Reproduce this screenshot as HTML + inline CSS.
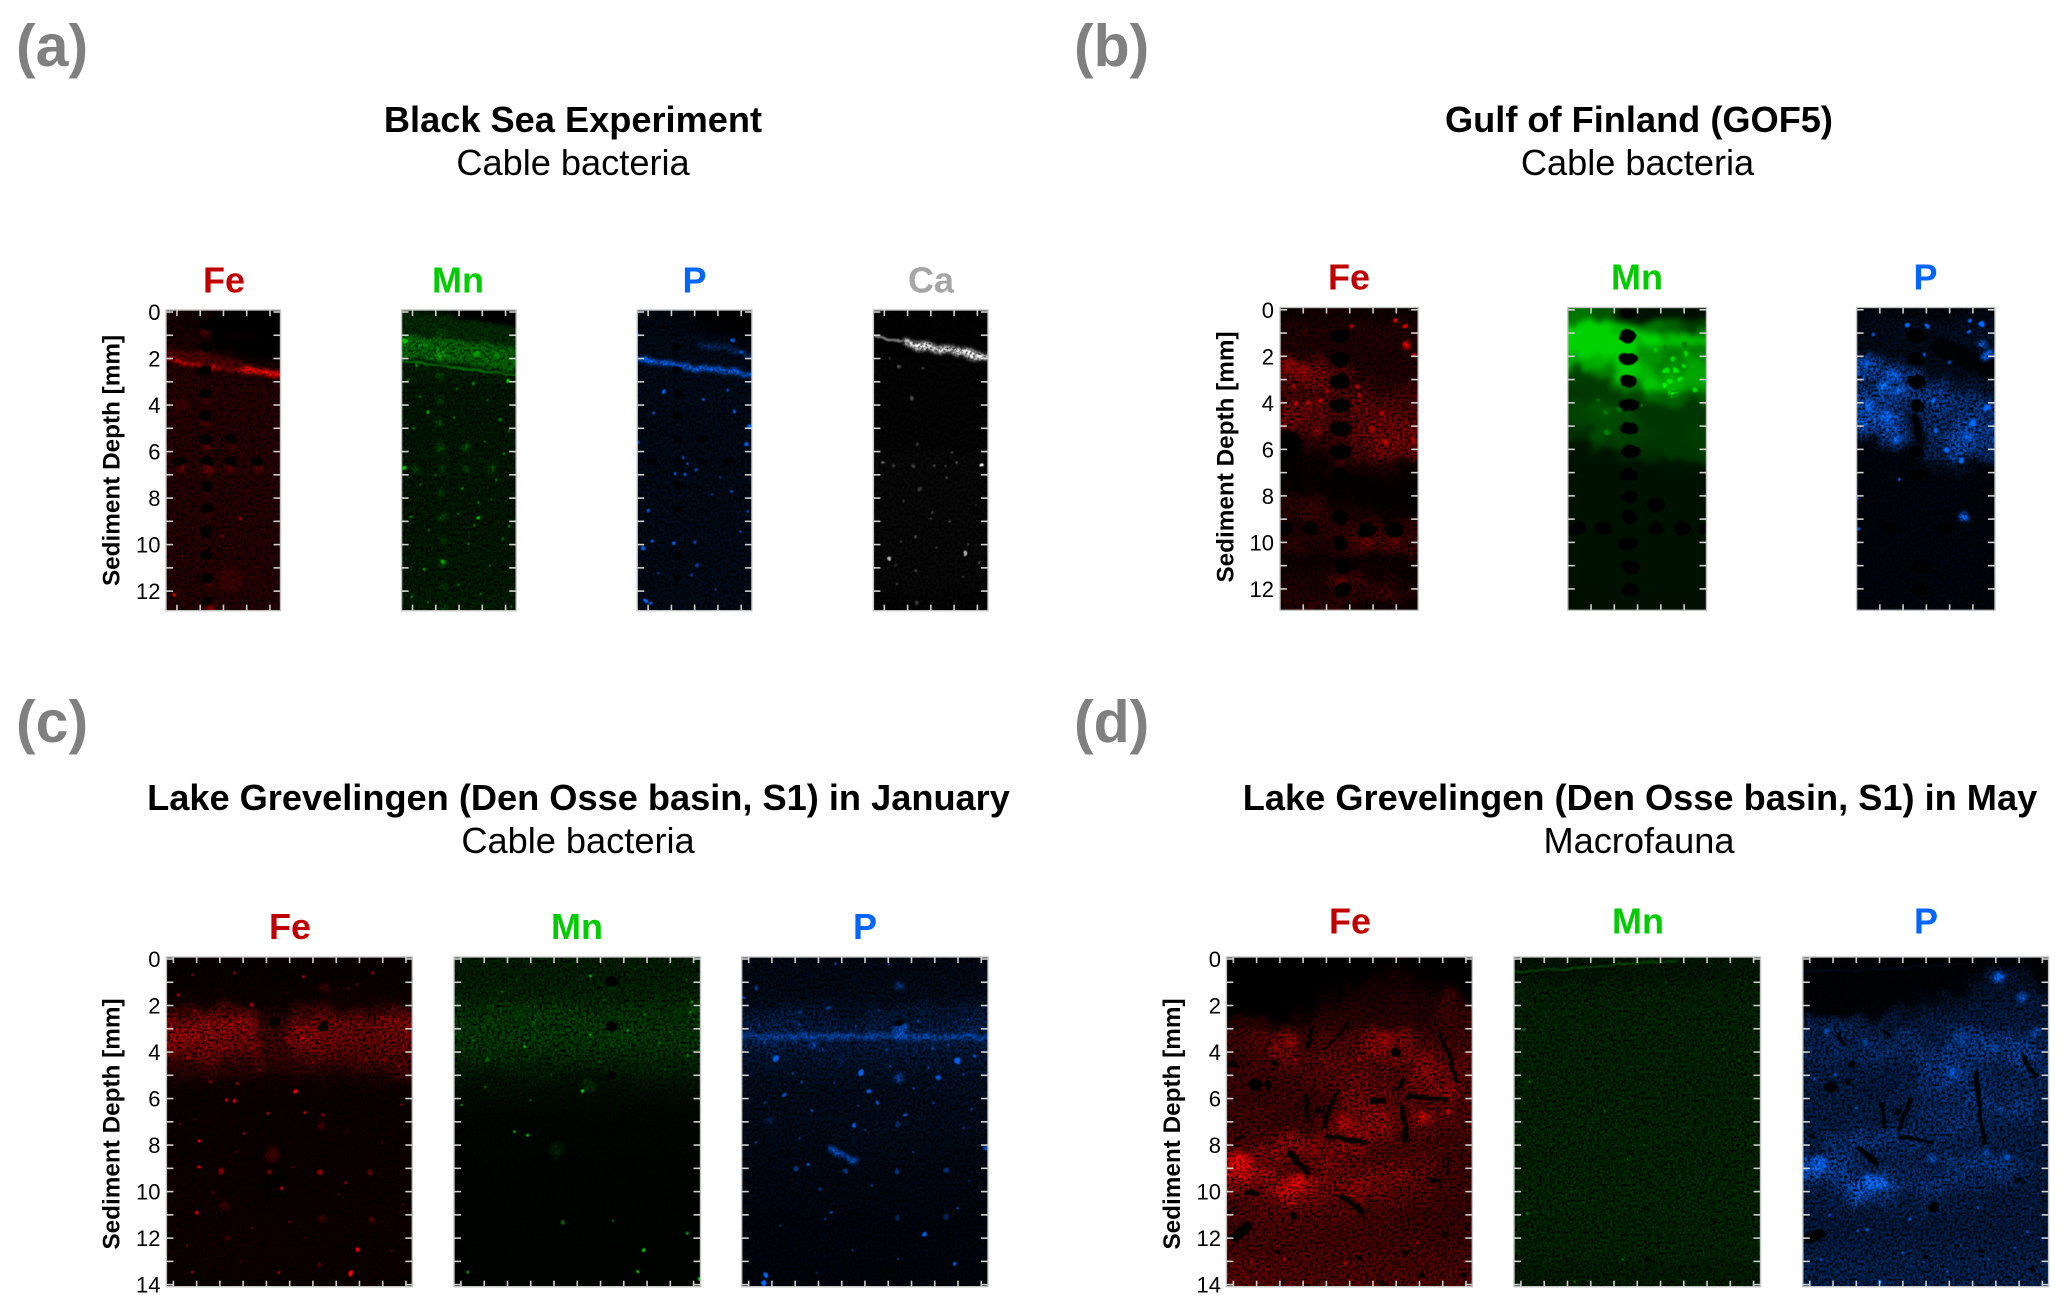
<!DOCTYPE html>
<html lang="en">
<head>
<meta charset="utf-8">
<title>Sediment element maps</title>
<style>
html,body{margin:0;padding:0;background:#fff;}
svg{display:block;font-family:"Liberation Sans",Arial,sans-serif;}
.panel-letter{font-size:59px;font-weight:700;fill:#808080;}
.title{font-size:36.2px;font-weight:700;fill:#000;text-anchor:middle;}
.subtitle{font-size:36.2px;fill:#000;text-anchor:middle;}
.element{font-size:36px;font-weight:700;text-anchor:middle;}
.tick-label{font-size:22px;fill:#000;text-anchor:end;}
.y-title{font-size:24.3px;font-weight:700;fill:#000;text-anchor:middle;}
</style>
</head>
<body>
<svg id="figure" xmlns="http://www.w3.org/2000/svg" width="2067" height="1316" viewBox="0 0 2067 1316">
<defs>
<filter id="grain" x="-5%" y="-5%" width="110%" height="110%" color-interpolation-filters="sRGB">
<feTurbulence type="fractalNoise" baseFrequency="0.06" numOctaves="3" seed="11" result="warp"/>
<feDisplacementMap in="SourceGraphic" in2="warp" scale="22" xChannelSelector="R" yChannelSelector="G" result="moved"/>
<feGaussianBlur in="moved" stdDeviation="3" result="b"/>
<feTurbulence type="fractalNoise" baseFrequency="0.38" numOctaves="2" seed="4" result="n"/>
<feColorMatrix in="n" type="matrix" values="2.4 0 0 0 -0.58 2.4 0 0 0 -0.58 2.4 0 0 0 -0.58 0 0 0 0 1" result="g"/>
<feComposite in="b" in2="g" operator="arithmetic" k1="1.12" k2="0" k3="0" k4="0"/>
</filter>
<filter id="smooth" x="-5%" y="-5%" width="110%" height="110%" color-interpolation-filters="sRGB">
<feTurbulence type="fractalNoise" baseFrequency="0.06" numOctaves="3" seed="11" result="warp"/>
<feDisplacementMap in="SourceGraphic" in2="warp" scale="24" xChannelSelector="R" yChannelSelector="G" result="moved"/>
<feGaussianBlur in="moved" stdDeviation="3"/>
</filter>
<filter id="wide" x="-5%" y="-5%" width="110%" height="110%" color-interpolation-filters="sRGB">
<feTurbulence type="fractalNoise" baseFrequency="0.09" numOctaves="2" seed="7" result="warp"/>
<feDisplacementMap in="SourceGraphic" in2="warp" scale="8" xChannelSelector="R" yChannelSelector="G" result="moved"/>
<feGaussianBlur in="moved" stdDeviation="1.8" result="b"/>
<feTurbulence type="fractalNoise" baseFrequency="0.38" numOctaves="2" seed="9" result="n"/>
<feColorMatrix in="n" type="matrix" values="1.8 0 0 0 -0.15 1.8 0 0 0 -0.15 1.8 0 0 0 -0.15 0 0 0 0 1" result="g"/>
<feComposite in="b" in2="g" operator="arithmetic" k1="1.15" k2="0" k3="0" k4="0"/>
</filter>
<filter id="soft" x="-5%" y="-5%" width="110%" height="110%" color-interpolation-filters="sRGB">
<feTurbulence type="fractalNoise" baseFrequency="0.09" numOctaves="2" seed="7" result="warp"/>
<feDisplacementMap in="SourceGraphic" in2="warp" scale="5" xChannelSelector="R" yChannelSelector="G" result="moved"/>
<feGaussianBlur in="moved" stdDeviation="0.5"/>
</filter>
</defs>

<text class="panel-letter" x="16" y="66">(a)</text>
<text class="panel-letter" x="1074" y="66">(b)</text>
<text class="panel-letter" x="16" y="742">(c)</text>
<text class="panel-letter" x="1074" y="742">(d)</text>

<text class="title" x="573" y="132">Black Sea Experiment</text>
<text class="subtitle" x="573" y="175">Cable bacteria</text>
<text class="title" x="1639" y="132">Gulf of Finland (GOF5)</text>
<text class="subtitle" x="1637.5" y="175">Cable bacteria</text>
<text class="title" x="578.5" y="810">Lake Grevelingen (Den Osse basin, S1) in January</text>
<text class="subtitle" x="578" y="853">Cable bacteria</text>
<text class="title" x="1640" y="810">Lake Grevelingen (Den Osse basin, S1) in May</text>
<text class="subtitle" x="1639" y="853">Macrofauna</text>

<text class="element" x="224" y="292.5" fill="#c00000">Fe</text>
<text class="element" x="458" y="292.5" fill="#00cc00">Mn</text>
<text class="element" x="694.5" y="292.5" fill="#0066ff">P</text>
<text class="element" x="931" y="292.5" fill="#a6a6a6">Ca</text>
<text class="element" x="1349" y="289.5" fill="#c00000">Fe</text>
<text class="element" x="1637" y="289.5" fill="#00cc00">Mn</text>
<text class="element" x="1925.5" y="289.5" fill="#0066ff">P</text>
<text class="element" x="290" y="939" fill="#c00000">Fe</text>
<text class="element" x="577" y="939" fill="#00cc00">Mn</text>
<text class="element" x="865" y="939" fill="#0066ff">P</text>
<text class="element" x="1350" y="933.7" fill="#c00000">Fe</text>
<text class="element" x="1638" y="933.7" fill="#00cc00">Mn</text>
<text class="element" x="1926" y="933.7" fill="#0066ff">P</text>

<text class="y-title" transform="translate(119.4,460.5) rotate(-90)">Sediment Depth [mm]</text>
<text class="y-title" transform="translate(1233.5,457) rotate(-90)">Sediment Depth [mm]</text>
<text class="y-title" transform="translate(119.4,1124) rotate(-90)">Sediment Depth [mm]</text>
<text class="y-title" transform="translate(1180,1124) rotate(-90)">Sediment Depth [mm]</text>
</svg>

<script>
// Axis ticks (mm)
const depthTicks13 = [0,1,2,3,4,5,6,7,8,9,10,11,12];
const depthTicks14 = [0,1,2,3,4,5,6,7,8,9,10,11,12,13,14];
const depthLabels13 = [0,2,4,6,8,10,12];
const depthLabels14 = [0,2,4,6,8,10,12,14];
const widthTicksNarrow = [0.47,1.47,2.47,3.47,4.47];
const widthTicksMedium = [1,2,3,4,5];
const widthTicksWide = [0.3,1.3,2.3,3.3,4.3,5.3,6.3,7.3,8.3,9.3,10.3];

// Channel peak colour per unit level (level 100 = full channel)
const channelFe = [2.55,0,0];
const channelMn = [0,2.1,0];
const channelP = [0,1.05,2.55];
const channelCa = [2.55,2.55,2.55];

// ---- Panel a: intensity cells (rows 1 mm deep, columns 1 mm wide)
const aFeCells = [[10,8,2,0,0],[14,12,9,4,1],[17,17,15,14,12],[17,17,17,17,17],[18,17,17,17,17],[17,17,17,17,17],[18,18,18,18,18],[17,17,17,17,17],[17,17,17,17,17],[17,17,17,17,17],[17,17,17,17,17],[16,16,18,18,17],[16,16,17,16,16]];
const aMnCells = [[12,10,6,1,0],[18,20,18,14,8],[16,16,16,16,18],[13,13,13,13,13],[13,13,13,13,13],[12,13,13,13,13],[13,14,14,14,13],[13,13,13,13,13],[13,13,13,13,13],[13,13,14,13,13],[14,14,14,14,13],[14,14,14,14,14],[15,15,15,15,15]];
const aPCells = [[8,8,6,3,1],[11,11,11,11,7],[11,11,11,11,11],[11,11,11,11,11],[10,10,10,10,10],[10,10,10,10,10],[10,10,10,10,10],[10,10,10,10,10],[10,10,10,10,10],[10,10,10,10,10],[10,10,10,10,10],[10,10,10,10,10],[10,10,10,10,10]];
const aCaCells = [[1],[1],[2],[2],[2],[2],[3],[3],[3],[3],[3],[3],[2]];
const aFeBands = [[0.35,0,2.0,0.55,4.95,0.85],[0.55,0,2.3,1.3,4.95,1.6],[0.26,120,0,1.98,1,2.15,2,2.33,3,2.43,4,2.57,4.95,2.68],[0.5,28,0,1.75,1.5,2,3,2.25]];
const aMnBands = [[0.55,0,2.6,0.0,4.95,0.4],[1.05,46,0,1.45,2,1.65,4.95,2.05],[0.9,20,0,0.4,2.5,0.75,4.95,1.05],[0.1,48,0,2.1,2.5,2.4,4.95,2.72]];
const aPBands = [[0.5,0,2.6,0.0,4.95,0.45],[0.22,100,0,1.98,1,2.15,2,2.35,3,2.45,4,2.55,4.95,2.68],[0.22,40,2.7,1.4,3.7,1.55,4.95,1.92]];
const aCaBands = [[0.12,45,0.1,1.05,1.2,1.25],[0.3,90,1.4,1.3,2.2,1.5,3,1.6,4,1.75,4.95,1.98]];
const aHoles = [[1.7,0.56,0.28,0.22],[1.7,1.49,0.28,0.22],[1.7,2.49,0.28,0.22],[1.7,3.5,0.28,0.22],[1.7,4.47,0.28,0.22],[1.7,5.47,0.28,0.22],[2.8,5.47,0.25,0.2],[0.62,6.43,0.25,0.2],[1.8,6.43,0.28,0.22],[2.8,6.43,0.28,0.22],[3.93,6.43,0.25,0.2],[1.75,7.48,0.25,0.22],[1.75,8.45,0.25,0.22],[1.75,9.45,0.25,0.22],[1.75,10.45,0.25,0.22],[1.75,11.44,0.25,0.22],[1.8,12.42,0.2,0.2]];
const aPHoles = [[1.7,1.49,0.22,0.18],[1.7,2.49,0.2,0.16],[1.7,3.5,0.2,0.16],[1.7,4.47,0.2,0.16],[1.7,5.47,0.2,0.16],[2.8,5.47,0.2,0.16],[0.62,6.43,0.2,0.16],[1.8,6.43,0.22,0.18],[2.8,6.43,0.2,0.16],[3.93,6.43,0.2,0.16],[1.75,7.48,0.18,0.16],[1.75,8.45,0.18,0.16],[1.75,10.45,0.18,0.16],[1.75,11.44,0.18,0.16]];
const aFeSpots = [[1.7,0.85,0.2,30],[1.7,1.8,0.2,32],[1.7,3.8,0.2,34],[1.7,4.78,0.2,32],[1.7,5.8,0.2,40],[2.8,5.8,0.2,30],[0.65,6.75,0.2,42],[1.8,6.78,0.22,42],[2.8,6.75,0.2,38],[3.95,6.75,0.2,38],[1.8,7.8,0.15,28],[1.85,8.8,0.15,28],[1.85,11.75,0.15,34],[1.85,12.75,0.2,50],[0.35,12.2,0.07,80],[3.15,8.85,0.08,60],[2.4,9.6,0.06,40],[2.75,11.5,0.6,22],[0.65,3.95,0.3,25]];
const aMnSpots = [[0.15,1.25,0.12,95],[1.1,4.25,0.07,85],[0.1,6.7,0.08,100],[3.3,8.85,0.08,100],[4.6,2.95,0.08,100],[1.8,10.75,0.08,85],[0.95,11.1,0.06,80],[0.45,12.25,0.06,80],[4.7,12.65,0.05,90],[3.3,8.2,0.05,80],[3.1,9.15,0.05,75],[3.1,3.05,0.06,70],[0.8,3.65,0.06,60],[4.2,4.65,0.05,65],[0.65,2.3,0.06,80],[4.6,9.2,0.05,75],[1.45,7,0.05,65],[3.9,8.1,0.05,65],[2.4,8.7,0.05,60],[4.35,9.75,0.05,60],[1.7,1.8,0.22,72],[3.2,1.8,0.13,75],[0.9,1.35,0.2,60],[4.1,1.9,0.13,62],[1.65,0.9,0.2,32],[1.65,2.8,0.17,30],[1.65,3.8,0.17,32],[1.65,4.8,0.17,34],[1.65,5.8,0.17,36],[2.8,5.8,0.17,38],[0.6,6.75,0.17,36],[1.75,6.78,0.17,38],[2.8,6.78,0.17,38],[3.9,6.75,0.17,36],[1.75,7.8,0.16,32],[1.75,8.8,0.16,34],[1.8,9.8,0.15,28],[1.8,10.8,0.17,40],[1.8,11.8,0.17,32],[1.8,12.75,0.17,30],[0.5,5,0.05,75],[2.3,4.5,0.05,70],[3.6,5.6,0.05,70],[4.4,6.1,0.05,70],[0.8,7.4,0.05,70],[2.6,7.6,0.05,70],[4.1,7.2,0.05,70],[0.4,8.8,0.05,75],[1.2,9.4,0.05,70],[2.9,10,0.05,70],[3.8,10.9,0.05,70],[2.4,11.7,0.05,70],[3.4,12.1,0.05,70],[1.1,12.5,0.05,70],[0.3,2.9,0.05,65],[2.4,3.3,0.05,65],[3.7,3.8,0.05,65],[4.6,5.1,0.05,60]];
const aPSpots = [[4.1,1.2,0.09,90],[4.5,1.75,0.08,80],[1.15,3.4,0.09,95],[3.9,3.4,0.07,75],[2.85,3.8,0.07,80],[4.2,4.25,0.09,85],[0.7,4.35,0.07,75],[4.8,4.95,0.1,100],[4.7,5.7,0.1,90],[2,6.3,0.06,80],[2.15,6.5,0.06,85],[2.55,6.8,0.07,90],[1.6,6.95,0.07,90],[2.05,7,0.07,85],[3.55,7.1,0.05,60],[4.05,7.7,0.06,80],[3.25,7.8,0.05,60],[0.5,8.55,0.07,85],[4.75,8.55,0.06,70],[0.65,9.85,0.07,85],[0.3,10.15,0.1,95],[1.6,9.95,0.07,90],[2.5,9.9,0.06,85],[4.4,9.45,0.06,80],[2.6,10.9,0.06,70],[0.9,11.2,0.06,70],[2.3,11.3,0.06,70],[3.4,11.9,0.05,65],[0.35,12.4,0.1,100],[0.55,12.5,0.08,85],[0,0.95,0.1,90],[0,5.6,0.08,70]];
const aCaSpots = [[0.4,6.5,0.07,40],[4.65,6.6,0.07,100],[0.65,10.6,0.08,75],[3.95,10.4,0.08,70],[1.1,2.35,0.07,30],[2.15,2.4,0.06,28],[1.65,3.7,0.1,30],[1.8,9.6,0.06,35],[3.3,9,0.05,35],[3.15,7.15,0.05,35],[2.55,8.6,0.05,30],[4.5,10.75,0.05,35],[1.8,11.1,0.07,28],[1.2,9.85,0.05,25],[0.65,2,0.05,28],[2,7.6,0.09,22],[1.9,5.65,0.07,22],[3.6,6.45,0.05,35],[2.5,8.85,0.05,30],[3.4,6,0.05,25],[4.1,10,0.05,30],[1,11.65,0.05,28],[1.85,12.55,0.1,22],[0.9,6.6,0.08,22],[1.7,6.6,0.08,24],[2.6,6.6,0.05,26],[3.1,6.6,0.05,25],[4.4,8.3,0.04,28],[1.3,8.1,0.05,24],[2.7,10.1,0.05,25],[3.9,11.4,0.05,26],[0.95,10.9,0.05,24]];

// ---- Panel b: intensity cells (rows 0.5 mm deep, columns 1 mm wide)
const bFeCells = [[6,10,10,8,8,6],[14,18,16,14,16,14],[14,14,12,16,16,14],[16,14,14,14,14,14],[50,35,18,14,12,14],[55,50,35,16,14,14],[35,45,35,25,18,22],[30,30,32,30,30,30],[45,50,38,45,38,35],[50,40,30,42,48,45],[35,35,30,42,50,50],[8,20,25,40,55,50],[4,8,15,35,45,40],[3,4,10,12,14,6],[2,3,3,2,4,3],[4,5,3,2,2,2],[18,22,6,3,2,2],[18,25,20,12,5,4],[12,18,20,25,22,22],[16,18,24,30,28,22],[20,14,18,26,28,28],[8,6,8,6,6,6],[8,10,14,10,8,6],[14,12,30,25,16,8],[16,14,20,18,26,16],[16,22,22,8,8,6]];
const bMnCells = [[55,40,15,8,10,5],[100,100,85,55,45,30],[100,100,100,100,90,90],[100,100,100,70,60,60],[80,85,95,70,60,75],[30,60,95,85,70,80],[28,28,55,95,85,75],[25,28,30,50,45,40],[32,40,35,25,25,25],[32,35,32,25,25,25],[22,35,30,28,25,28],[9,25,28,25,25,28],[9,9,15,20,25,25],[8,8,8,8,9,9],[8,8,8,8,8,8],[8,8,8,8,8,8],[8,8,8,8,8,8],[8,8,8,8,8,8],[8,8,8,8,8,8],[8,8,8,8,8,8],[8,8,8,8,8,8],[8,8,8,8,8,8],[8,8,8,8,8,8],[8,8,8,8,8,8],[7,7,7,7,7,7],[7,7,7,7,7,7]];
const bPCells = [[8,8,8,6,8,8],[10,12,12,14,14,18],[10,12,12,10,14,20],[10,10,10,10,12,14],[70,30,12,10,10,20],[70,70,50,15,12,8],[35,70,60,45,25,20],[60,70,55,60,50,45],[75,55,40,55,50,55],[90,80,40,45,65,55],[60,75,50,45,70,65],[8,45,20,40,75,60],[5,5,6,35,70,45],[5,5,5,12,15,4],[5,6,6,6,6,5],[5,6,6,6,6,5],[5,6,6,6,6,5],[5,6,6,6,6,5],[5,6,6,6,6,5],[5,6,6,6,6,5],[5,6,6,6,6,5],[5,6,6,6,6,5],[5,6,6,6,6,5],[5,6,6,6,6,5],[5,6,6,6,6,5],[5,6,6,6,6,5]];
const bHolesFe = [[2.58,1.13,0.45,0.3],[2.58,2.13,0.45,0.3],[2.58,3.09,0.42,0.33],[2.6,4.11,0.45,0.3],[2.6,5.13,0.45,0.33],[2.62,6.1,0.45,0.3],[2.62,7.1,0.4,0.28],[2.6,8.9,0.35,0.3],[3.74,9.45,0.4,0.32],[4.9,9.45,0.4,0.32],[0.2,9.4,0.35,0.3],[1.3,9.4,0.3,0.3],[2.6,10.05,0.3,0.3],[2.7,11.05,0.35,0.3],[2.7,12.05,0.35,0.3],[0.4,5.8,0.55,0.6]];
const bHolesMn = [[2.6,0.15,0.42,0.2],[2.58,1.13,0.35,0.28],[2.58,2.1,0.4,0.28],[2.58,3.06,0.38,0.28],[2.65,4.1,0.4,0.27],[2.65,5.1,0.4,0.28],[2.7,6.1,0.4,0.28],[2.65,7.1,0.38,0.28],[2.65,8.04,0.35,0.26],[2.65,8.9,0.33,0.28],[0.43,9.4,0.35,0.3],[1.52,9.4,0.35,0.28],[3.8,9.4,0.35,0.28],[4.92,9.4,0.35,0.3],[5.85,9.4,0.25,0.28],[3.8,8.4,0.35,0.3],[2.6,10.05,0.38,0.28],[2.7,11.05,0.4,0.3],[2.7,12.05,0.38,0.3]];
const bHolesP = [[2.58,1.13,0.4,0.28],[2.58,2.13,0.4,0.28],[2.58,3.09,0.38,0.3],[2.6,4.11,0.3,0.25],[2.62,6.1,0.35,0.25],[2.62,7.1,0.35,0.25],[3.74,9.4,0.3,0.25],[1.4,9.4,0.3,0.25],[2.7,11.05,0.35,0.28],[2.7,12.05,0.35,0.28]];
const bPBands = [[0.35,0,2.5,4.6,2.7,5.6],[0.7,2,3.6,1.6,5.9,2.6]];
const bFeSpots = [[4.95,0.46,0.08,90],[5.4,0.7,0.1,85],[5.4,1.48,0.16,100],[3.05,0.73,0.08,70],[5.75,1.95,0.08,80],[2,3.55,0.09,70],[4.55,5.7,0.1,80],[3.4,3.7,0.1,70],[1.6,5.2,0.2,60],[3.35,3.3,0.1,75],[0.6,3.3,0.1,60],[0.7,4.05,0.1,75],[1.2,4,0.1,75],[1.75,3.9,0.1,75],[4.4,4.4,0.09,70],[3.95,5.1,0.1,65],[5.75,5.6,0.09,70],[1,2.7,0.35,55],[0.35,2.4,0.25,60],[2.6,11.6,0.22,40],[3.75,9.95,0.3,40],[4.9,9.9,0.3,38],[2.6,6.6,0.2,26]];
const bMnSpots = [[4.45,3.6,0.16,118],[4.15,3.25,0.12,115],[4.85,3,0.12,110],[4.55,2.1,0.12,105],[5.05,1.9,0.1,105],[5.45,3.45,0.12,105],[3.75,1.75,0.1,100],[4.25,2.6,0.12,110],[4.6,2.6,0.12,112],[5,2.4,0.1,108],[4.4,3.05,0.12,110],[4.2,1.6,0.1,60],[5,1.5,0.12,58],[3.2,4.1,0.06,60],[1.6,4.4,0.1,55],[1.7,5.3,0.12,60],[1.3,3.9,0.1,50],[2.2,4.3,0.1,55]];
const bPSpots = [[2.2,0.65,0.11,100],[3,0.7,0.1,95],[4.9,0.5,0.1,100],[5.35,0.6,0.12,100],[5.4,1.45,0.18,100],[5.65,1.95,0.22,100],[4.8,0.95,0.08,90],[1.85,7.3,0.07,90],[4.6,8.9,0.2,100],[0,8.1,0.08,100],[0.1,9.45,0.06,90],[4,2.3,0.08,90],[2.9,1.95,0.08,90],[0.75,1.05,0.08,85],[1.15,3.35,0.25,105],[1.85,3.45,0.18,105],[0.5,4.1,0.25,100],[4.8,5.45,0.2,100],[3.9,6,0.12,100],[4.5,6.45,0.12,100],[0.4,2.3,0.2,100],[1.6,2.8,0.3,95],[1.3,4.6,0.25,100],[3.3,3.9,0.1,100],[5,4.9,0.14,100],[5.6,4.2,0.14,100],[3.4,5.2,0.1,95],[1.7,5.6,0.2,100]];

// ---- Panel c: intensity cells (rows 0.5 mm deep, columns 1.33 mm wide)
const cFeCells = [[3,3,3,3,3,3,3,3],[4,4,4,4,4,4,4,4],[5,5,5,5,5,7,5,5],[6,8,6,6,6,8,8,8],[25,35,35,10,28,30,22,35],[50,60,60,25,48,50,45,60],[65,62,55,28,60,50,45,50],[60,55,50,28,50,42,40,45],[38,40,35,25,35,32,35,35],[22,22,20,18,20,20,22,28],[9,9,8,8,9,9,10,12],[6,6,6,5,6,6,7,7],[5,5,5,5,5,5,5,5],[5,5,5,5,5,5,5,5],[5,6,5,5,5,6,5,5],[5,5,5,5,5,5,5,5],[5,5,7,5,5,5,5,5],[6,6,6,5,5,5,5,6],[7,6,6,4,5,6,6,6],[7,6,5,4,5,5,5,6],[7,7,6,4,5,5,5,5],[7,7,6,5,5,6,6,6],[7,6,6,6,5,7,7,7],[6,7,7,6,6,6,6,6],[6,7,7,6,6,5,5,5],[6,7,6,6,6,6,6,6],[6,6,6,6,6,6,6,6],[5,5,5,5,5,5,5,5]];
const cMnCells = [[16,16,16,16,16,16,16,16],[17,17,17,17,17,17,17,17],[18,18,18,18,18,18,18,18],[20,20,22,22,20,20,22,22],[26,28,32,30,28,26,26,32],[30,30,32,30,30,28,28,32],[30,30,30,30,30,32,28,28],[28,28,28,28,28,28,28,28],[22,24,24,22,22,22,24,24],[16,16,16,15,16,16,18,18],[10,10,10,10,10,10,11,12],[7,7,7,7,7,7,7,8],[5,5,5,5,5,5,5,5],[4,4,4,4,4,4,4,4],[3,3,3,3,3,3,3,3],[3,3,3,3,3,3,3,3],[3,3,3,3,3,3,3,3],[2,2,2,2,2,2,2,2],[2,2,2,2,2,2,2,2],[2,2,2,2,2,2,2,2],[2,2,2,2,2,2,2,2],[2,2,2,2,2,2,2,2],[2,2,2,2,2,2,2,2],[2,2,2,2,2,2,2,2],[2,2,2,2,2,2,2,2],[1,1,1,1,1,1,1,1],[1,1,1,1,1,1,1,1],[1,1,1,1,1,1,1,1]];
const cPCells = [[9,9,9,9,9,9,9,9],[10,10,10,10,10,10,10,10],[10,10,10,10,11,11,10,10],[12,12,12,12,12,12,12,14],[20,25,20,16,22,22,22,28],[28,30,24,22,28,28,28,32],[34,34,30,28,32,34,30,34],[34,30,28,26,28,30,28,30],[22,22,22,20,22,22,22,22],[18,18,18,18,18,18,20,20],[14,14,14,14,14,14,16,16],[12,12,12,12,12,12,14,14],[12,12,12,12,12,12,12,12],[12,12,12,12,12,12,12,12],[11,11,11,12,12,12,12,12],[10,10,10,12,11,11,10,10],[9,9,9,11,11,10,9,9],[9,9,9,9,9,9,9,9],[8,8,8,8,8,8,8,8],[8,8,8,8,8,8,8,8],[7,7,7,7,7,7,7,7],[7,7,7,7,7,7,7,7],[6,6,6,6,6,6,6,6],[6,6,6,6,6,6,6,6],[6,6,6,6,6,6,6,6],[6,6,6,6,6,6,6,6],[5,5,5,5,5,5,5,5],[5,5,5,5,5,5,5,5]];
const cPBands = [[0.24,70,0,3.33,2,3.36,4,3.33,6,3.33,8,3.36,10.6,3.33],[0.22,80,3.8,8.2,4.95,8.65]];
const cFeHoles = [[4.65,2.7,0.25,0.2],[6.75,2.9,0.22,0.2]];
const cMnHoles = [[6.8,0.97,0.25,0.22],[6.8,2.9,0.25,0.22],[6.8,5,0.2,0.18]];
const cPHoles = [[6.75,2.75,0.2,0.15]];
const cFeSpots = [[0.5,1.55,0.08,80],[1.1,0.65,0.05,70],[2.9,0.6,0.05,70],[5.9,0.75,0.07,70],[8.9,0.6,0.05,70],[6.8,1.25,0.22,26],[3.65,2,0.1,70],[5.55,5.7,0.1,100],[2.95,6.1,0.08,90],[2.6,6.1,0.07,80],[6,6.65,0.06,85],[4.4,6.65,0.07,70],[6.75,6.7,0.07,75],[6.7,7.2,0.17,36],[1.45,7.8,0.09,95],[3.35,7.5,0.05,70],[4.55,8.45,0.3,24],[2.35,9.1,0.14,45],[1.4,8.95,0.07,90],[4.45,9.15,0.12,40],[6.65,9.15,0.12,55],[8.8,9.15,0.12,36],[5,9.85,0.06,85],[1.3,10.9,0.07,80],[6.7,11.15,0.15,32],[8.8,11.2,0.13,30],[8.2,12.5,0.1,100],[7.9,13.5,0.1,100],[4.85,13.5,0.06,80],[1.1,13.45,0.06,70],[10.1,6.2,0.05,70],[0.55,7.15,0.05,70],[7.7,9.65,0.05,70],[2.5,10.65,0.2,24],[7.35,10.15,0.05,50],[6.55,13.15,0.1,30],[6.75,3.2,0.2,55],[0.9,4.2,0.08,60],[9.4,4.3,0.1,50],[7.8,1.3,0.05,50],[3.1,5.4,0.05,70],[1.9,5.3,0.06,60],[5.3,11.3,0.05,50],[2.6,12,0.12,22],[1.2,2.2,0.05,90],[3.3,2.9,0.05,90],[5.8,3.4,0.06,95],[7.1,3.6,0.05,85],[9.3,2.5,0.05,85],[2,4.4,0.05,75],[4,4.8,0.05,75],[6.3,4.5,0.05,70],[8.6,4.3,0.05,70],[10,4.6,0.05,80],[1.2,6.9,0.04,55],[3,8.3,0.04,55],[5.4,8.9,0.04,55],[7.8,7.4,0.04,55],[9.3,7.9,0.04,50],[2,10,0.04,50],[3.7,11.6,0.04,55],[6,12,0.04,50],[9.7,12.6,0.04,55],[0.9,12.3,0.04,50],[3.2,13,0.04,55],[10.2,10.6,0.04,50],[5.2,1.5,0.04,55],[8.2,1.1,0.04,55],[2.2,1.3,0.04,50]];
const cMnSpots = [[5.55,5.7,0.08,105],[5.85,0.7,0.06,90],[0.35,6.25,0.05,85],[2.6,7.4,0.06,95],[3.15,7.6,0.06,95],[8.2,12.5,0.07,105],[7.9,13.5,0.07,105],[0.6,13.45,0.07,90],[10.05,11.8,0.05,85],[10.55,13.75,0.07,100],[6.85,11.25,0.05,80],[4.65,11.3,0.07,50],[7.45,3.05,0.05,90],[5.85,3.25,0.05,90],[3,3.75,0.06,95],[10.2,2.25,0.06,85],[10.25,1.85,0.05,85],[1.4,4.3,0.1,50],[10.05,4.15,0.05,70],[8.8,3.6,0.05,70],[4.4,8.2,0.32,14],[5.8,5.45,0.3,20],[2.05,1.45,0.05,70],[1.35,5.5,0.05,55],[3.3,6.1,0.05,60],[2.8,2.4,0.45,26],[9.6,2.4,0.45,24],[6.85,1.2,0.2,24],[6.85,3.15,0.25,32],[1.5,2.8,0.04,70],[4.4,3.9,0.04,70],[6.3,4.4,0.04,60],[9.1,4.8,0.04,60],[2.7,0.9,0.04,60],[7.8,0.4,0.04,60],[10,0.9,0.04,55],[4.2,5,0.04,65],[0.8,3.5,0.04,65],[8.2,2.4,0.04,70],[5,2.2,0.04,70],[3.4,2.7,0.04,70],[6.4,1.8,0.04,60],[9.3,3.1,0.04,70]];
const cPSpots = [[6.8,3.1,0.3,75],[6.8,1.15,0.16,55],[6.75,5.15,0.18,60],[3.05,3.75,0.15,80],[1.5,4.25,0.12,90],[5.15,4.9,0.12,95],[5.5,5.7,0.1,90],[1.8,5.85,0.08,80],[5.85,6.15,0.08,80],[8.45,5.1,0.1,85],[9.3,4.4,0.13,90],[10,4.2,0.08,75],[4.85,7.15,0.1,90],[7.05,6.7,0.07,75],[1.15,6.95,0.17,36],[6.7,7.1,0.12,40],[2.85,8.8,0.08,80],[2.3,9,0.13,50],[4.5,9.1,0.11,50],[6.7,9.1,0.11,50],[8.8,9.1,0.12,45],[7.85,11.85,0.08,90],[9.15,13.1,0.08,90],[0.95,13.9,0.12,100],[1.05,13.6,0.11,100],[3.85,10.9,0.07,75],[9.25,10.7,0.05,75],[6.7,11.1,0.13,32],[8.8,11.1,0.13,32],[10.5,8.15,0.12,75],[0.1,1.65,0.06,80],[0.65,1.25,0.1,55],[4,0.25,0.05,70],[6.35,0.25,0.05,65],[8.2,3.85,0.07,70],[4.25,4.35,0.2,34],[5.9,2.2,0.05,70],[2.5,2.3,0.1,45],[9.6,2.2,0.3,22],[3.7,2.1,0.07,60],[2.6,5.3,0.05,70],[3.6,11.2,0.05,60],[7.4,5.6,0.05,75],[5.3,7.3,0.05,65],[0.8,2.8,0.05,70],[2.5,2.8,0.05,70],[4.9,2.9,0.05,70],[7.6,2.7,0.05,70],[9.8,2.6,0.05,70],[1,3.6,0.05,80],[3.5,3.9,0.05,80],[6.2,3.9,0.05,80],[8.9,3.7,0.05,80],[2.2,4.9,0.05,75],[4,5.3,0.05,75],[6.4,4.6,0.05,75],[8,4.7,0.05,80],[9.5,5,0.05,70],[1,6.2,0.05,70],[3,6.5,0.05,70],[5,6.3,0.05,70],[8.2,6.2,0.05,70],[9.9,6.5,0.05,65],[0.6,7.9,0.05,65],[2.5,7.7,0.05,65],[7.4,8.3,0.05,60],[9.5,7.3,0.05,60],[3.4,9.9,0.05,60],[5.6,9.7,0.05,60],[6.7,12.9,0.05,55],[1.6,11.5,0.05,55],[4.8,12.5,0.05,55],[3.2,13.5,0.05,55],[9.8,9.5,0.05,55]];

// ---- Panel d: intensity cells (rows 0.5 mm deep, columns 1 mm wide)
const dFeCells = [[0,0,0,0,0,0,0,4,0,0,0],[0,0,0,0,0,0,4,10,2,0,0],[0,0,0,0,0,8,12,12,6,8,0],[0,0,0,0,8,14,14,16,14,28,6],[0,0,0,6,16,18,16,18,16,28,24],[18,18,10,20,22,20,20,22,20,26,26],[28,38,45,28,30,32,50,50,30,25,28],[28,35,55,30,38,35,60,50,35,30,30],[25,32,48,35,45,40,45,50,55,38,40],[28,30,35,35,40,40,35,35,60,50,40],[28,28,28,32,38,48,40,38,55,50,35],[28,25,26,28,32,50,48,38,45,60,38],[28,28,28,25,30,50,55,40,38,40,35],[28,30,25,26,35,50,60,42,60,45,35],[30,30,30,30,50,65,60,40,40,35,35],[35,35,55,60,45,65,50,35,35,30,30],[35,55,60,60,50,55,35,35,32,30,30],[90,50,40,45,55,40,35,38,40,32,30],[95,75,45,40,50,45,50,55,40,30,28],[55,55,90,70,48,60,55,45,38,30,28],[35,45,75,55,45,50,42,38,35,28,28],[35,40,42,42,35,40,34,30,28,26,26],[34,36,36,36,34,32,30,28,28,26,26],[34,34,34,34,32,30,30,28,28,26,26],[32,32,32,32,32,32,30,30,30,28,28],[34,34,34,34,34,34,32,32,32,32,32],[38,38,36,34,34,34,34,34,34,34,34],[42,40,38,36,36,36,36,36,36,36,36]];
const dMnCells = [[12,13,14],[18,18,18],[19,19,19],[19,19,19],[19,19,19],[19,19,19],[19,19,19],[20,20,20],[19,19,19],[20,20,20],[20,20,20],[19,19,19],[19,19,19],[15,15,15]];
const dPCells = [[2,2,2,2,2,2,2,2,4,4,0],[2,2,2,2,2,2,2,8,30,14,0],[2,2,2,2,2,2,4,18,22,20,10],[2,2,2,2,3,8,18,22,22,28,28],[2,2,3,3,16,22,24,26,28,28,26],[30,35,30,25,28,30,30,28,28,30,28],[35,42,35,35,45,30,40,55,45,38,36],[35,42,36,50,42,40,60,62,55,60,38],[38,36,40,42,35,50,55,50,45,65,45],[32,32,30,30,32,55,60,45,35,40,42],[30,30,30,28,32,50,60,45,38,38,40],[30,30,28,28,35,45,45,50,40,42,34],[30,30,30,30,35,40,42,58,36,55,34],[30,30,32,32,32,45,48,45,38,50,30],[32,32,35,45,40,40,50,45,35,32,30],[30,45,55,55,48,45,38,35,35,30,30],[32,50,45,40,40,36,35,40,32,32,30],[80,60,40,36,38,35,50,55,55,42,30],[80,65,45,50,42,40,50,40,50,35,30],[40,45,90,70,45,55,45,40,35,30,28],[30,35,70,55,32,38,32,30,28,28,28],[30,30,30,32,32,36,30,28,28,30,28],[28,28,28,28,28,28,28,28,28,28,28],[28,28,28,28,28,28,28,28,28,28,28],[30,30,30,30,30,30,30,30,30,30,30],[32,32,32,32,32,32,32,32,32,32,32],[34,34,34,34,34,34,34,34,34,34,34],[34,34,34,34,34,34,34,34,34,34,34]];
const dFeBurrows = [[0.16,0,3.4,5.9,3.5,6.9],[0.16,0,4.8,5.7,4.45,6.35,4.2,7.2],[0.2,0,7.6,6.35,7.7,7.8],[0.2,0,4.35,7.6,5.95,7.9],[0.25,0,2.7,8.3,3.5,9.2],[0.15,0,9.2,3.2,9.9,5.2],[0.16,0,7.55,5.2,7.35,5.6],[0.2,0,7.8,5.9,9.4,6.05],[0.16,0,3.65,3.05,3.55,3.75],[0.1,0,5.25,2.75,4.2,3.9],[0.42,0,0.4,11.95,0.9,11.5],[0.25,0,5,10.2,5.85,10.85],[0.12,0,0.4,7.8,0.75,7.65],[0.12,0,0.4,10.65,0,10.95],[0.1,0,9.55,8.5,9.55,9.2],[0.12,0,8.7,9.45,9.2,9.5]];
const dFeHoles = [[1.2,5.4,0.3,0.26],[1.8,5.4,0.16,0.22],[4,6.55,0.22,0.14],[6.5,6.1,0.32,0.16],[7.3,4,0.22,0.2],[1.1,10.1,0.36,0.14],[7.7,12.6,0.18,0.09],[8.4,13.6,0.18,0.12],[5.7,12.8,0.14,0.09],[2.25,12.6,0.12,0.09],[10.2,13.6,0.18,0.1],[6.65,13.9,0.14,0.09],[2.1,4.5,0.18,0.14],[0.3,4.5,0.18,0.18],[2.9,11,0.14,0.18],[9.4,11.8,0.14,0.1]];
const dPBurrows = [[0.16,0,3.4,6.2,3.5,7.2],[0.16,0,4.65,6.05,4.1,7.35],[0.2,0,7.45,4.9,7.55,5.9,7.8,7.9],[0.16,0,4.2,7.65,5.6,7.85],[0.25,0,2.5,8.2,3.2,8.8],[0.16,0,9.5,4.2,10,5.05],[0.45,0,0.75,11.8,0.3,12],[0.12,0,1.55,3.2,1.8,3.7],[0.12,0,3.5,3,3.75,3.35]];
const dPHoles = [[1.2,5.5,0.25,0.22],[1.9,5.3,0.15,0.16],[4.1,6.55,0.18,0.15],[5.6,10.7,0.22,0.22],[2.1,4.5,0.16,0.14],[7.7,12.6,0.15,0.1],[5.3,12.8,0.13,0.1],[9.9,13.4,0.12,0.1],[0.4,7.6,0.1,0.1],[9.3,9.5,0.2,0.1]];
const dPBands = [[0.12,8,0,0.55,3,0.45,7,0.2]];
const dMnBands = [[0.1,30,0,0.55,2,0.45,4,0.28,7,0.05]];
const dMnHoles = [[6.8,1,0.08,0.06],[5.6,5.2,0.07,0.06],[5.6,7,0.07,0.06],[5.7,10.7,0.1,0.08],[5.7,12.9,0.1,0.08],[8.6,11.3,0.08,0.06]];
const dFeSpots = [[9.5,6.6,0.12,70],[5.7,4.3,0.1,65],[3,4.3,0.08,70],[7.1,8.8,0.08,60],[2.5,12.9,0.06,80],[5.1,13.1,0.07,70],[8.2,12.2,0.06,65],[1.1,13,0.06,60],[6.8,3.5,0.4,58],[2.7,3.6,0.3,56],[8.5,6.8,0.22,80],[0.6,8.8,0.5,88],[3.1,9.6,0.38,85],[5.1,7,0.42,62]];
const dMnSpots = [[0.4,3.05,0.05,70],[0.7,5.3,0.05,70],[9,3.9,0.05,55],[9.7,4.35,0.05,50],[6.5,4.5,0.04,50],[3.9,6.5,0.05,45],[4.9,8.6,0.05,55],[0.6,11,0.06,65],[4.65,12.9,0.05,70],[6.5,1,0.04,50],[2.6,13.9,0.05,70],[2.4,10,0.05,45],[5.6,8,0.05,40],[8.4,9.5,0.05,40],[7.5,10,0.04,40],[1.6,8,0.04,42],[3,10.5,0.04,45]];
const dPSpots = [[8.4,0.8,0.2,100],[9.4,1.65,0.22,85],[10,3.2,0.18,70],[1,3.1,0.1,70],[2.7,3.6,0.16,75],[6.5,4.9,0.25,82],[6.8,3.4,0.35,60],[8.2,3.85,0.18,80],[8.5,6.45,0.2,80],[0.7,8.8,0.36,95],[0.25,9.1,0.2,95],[2.9,9.55,0.36,100],[3.4,9.7,0.28,100],[5.6,8.6,0.18,75],[7.9,8.4,0.15,80],[8.8,8.5,0.12,80],[6.2,4.7,0.06,85],[1.4,5,0.07,80],[0.5,5.2,0.07,75],[2.3,6.4,0.06,80],[1.2,11,0.06,80],[2.4,11.7,0.06,80],[2.8,11.6,0.07,85],[4.6,11.2,0.07,85],[6.8,12.3,0.06,75],[8,12.9,0.06,80],[9.1,12.4,0.06,75],[3.3,13.9,0.08,100],[6.2,13.4,0.06,80],[0.8,12.9,0.06,80],[7.5,10.7,0.06,75],[4.3,12.6,0.06,75],[9.7,11.7,0.08,70],[9.8,10.7,0.05,70],[5.2,13,0.05,70],[10,13.4,0.06,75]];

// Figure geometry and axis functions
const svgRoot = document.getElementById('figure');
const mmPixels = 23.26;
const svgNS = 'http://www.w3.org/2000/svg';
let clipCount = 0;

function makeNode(parent, tag, attrs) {
  const node = document.createElementNS(svgNS, tag);
  for (const key in attrs) node.setAttribute(key, attrs[key]);
  parent.appendChild(node);
  return node;
}
function levelColor(channel, level) {
  const c = channel.map(k => Math.max(0, Math.min(255, Math.round(k * level))));
  return 'rgb(' + c.join(',') + ')';
}

function drawImage(cfg) {
  const xScale = mm => cfg.left + mm * mmPixels;
  const yScale = mm => cfg.zero + mm * mmPixels;

  const group = makeNode(svgRoot, 'g', {});
  
  

  clipCount += 1;
  const clip = makeNode(svgRoot, 'clipPath', {id: 'clip' + clipCount});
  makeNode(clip, 'rect', {x: cfg.left, y: cfg.top, width: cfg.right - cfg.left, height: cfg.bottom - cfg.top});

  const backdrop = makeNode(group, 'rect', {x: cfg.left, y: cfg.top, width: cfg.right - cfg.left, height: cfg.bottom - cfg.top, fill: '#000'});
  
  

  const clipped = makeNode(group, 'g', {'clip-path': 'url(#clip' + clipCount + ')'});

  // Heatmap cells
  const heat = makeNode(clipped, 'g', {filter: 'url(#' + cfg.texture + ')'});
  const margin = 30;
  cfg.cells.forEach((row, r) => {
    row.forEach((level, c) => {
      const x0 = c === 0 ? cfg.left - margin : xScale(c * cfg.colStep);
      const x1 = c === row.length - 1 ? cfg.right + margin : xScale((c + 1) * cfg.colStep);
      const y0 = r === 0 ? cfg.top - margin : yScale(r * cfg.rowStep);
      const y1 = r === cfg.cells.length - 1 ? cfg.bottom + margin : yScale((r + 1) * cfg.rowStep);
      const cell = makeNode(heat, 'rect', {x: x0, y: y0, width: x1 - x0 + 0.5, height: y1 - y0 + 0.5, fill: levelColor(cfg.channel, level)});
      
      
    });
  });

  const wideMarks = makeNode(clipped, 'g', {filter: 'url(#wide)'});
  const marks = makeNode(clipped, 'g', {filter: 'url(#soft)'});

  // Invisible full-size rects keep each filter region covering the whole image
  [wideMarks, marks].forEach(layer => {
    const extent = makeNode(layer, 'rect', {x: cfg.left - margin, y: cfg.top - margin, width: cfg.right - cfg.left + 2 * margin, height: cfg.bottom - cfg.top + 2 * margin, fill: 'none', stroke: 'none', 'pointer-events': 'none'});
    
    
  });

  // Bands: [width mm, level, x, depth, x, depth, ...]
  const drawBand = (band, layer) => {
    let d = '';
    for (let i = 2; i < band.length; i += 2) {
      d += (i === 2 ? 'M' : 'L') + xScale(band[i]).toFixed(1) + ' ' + yScale(band[i + 1]).toFixed(1);
    }
    const line = makeNode(layer, 'path', {d: d, fill: 'none', stroke: levelColor(cfg.channel, band[1]), 'stroke-width': band[0] * mmPixels, 'stroke-linecap': 'round', 'stroke-linejoin': 'round'});
    
    
  };
  (cfg.bands || []).forEach(band => drawBand(band, band[0] >= 0.2 ? wideMarks : marks));

  // Spots: [x mm, depth mm, radius mm, level]
  (cfg.spots || []).forEach(s => {
    const dot = makeNode(s[2] >= 0.15 ? wideMarks : marks, 'circle', {cx: xScale(s[0]), cy: yScale(s[1]), r: s[2] * mmPixels, fill: levelColor(cfg.channel, s[3])});
    
    
  });

  (cfg.burrows || []).forEach(band => drawBand(band, marks));

  // Holes: [x mm, depth mm, radius x, radius y]
  (cfg.holes || []).forEach(h => {
    const hole = makeNode(marks, 'ellipse', {cx: xScale(h[0]), cy: yScale(h[1]), rx: h[2] * mmPixels, ry: h[3] * mmPixels, fill: '#000'});
    
    
  });

  // Frame and ticks
  const frame = makeNode(group, 'rect', {x: cfg.left, y: cfg.top, width: cfg.right - cfg.left, height: cfg.bottom - cfg.top, fill: 'none', stroke: '#c4c4c4', 'stroke-width': 1.4});
  
  

  const tickStyle = {stroke: '#d0d0d0', 'stroke-width': 1.6};
  cfg.yTicks.forEach(t => {
    [[cfg.left, cfg.left + 7], [cfg.right, cfg.right - 7]].forEach(ends => {
      const tick = makeNode(group, 'line', Object.assign({x1: ends[0], x2: ends[1], y1: yScale(t), y2: yScale(t)}, tickStyle));
      
      
    });
  });
  cfg.xTicks.forEach(t => {
    [[cfg.top, cfg.top + 6], [cfg.bottom, cfg.bottom - 6]].forEach(ends => {
      const tick = makeNode(group, 'line', Object.assign({x1: xScale(t), x2: xScale(t), y1: ends[0], y2: ends[1]}, tickStyle));
      
      
    });
  });

  // Depth tick labels (first image of each panel only)
  (cfg.yLabels || []).forEach(value => {
    const label = makeNode(group, 'text', {class: 'tick-label', x: cfg.labelRight, y: yScale(value) + 8});
    
    
    label.textContent = value;
  });
}

const narrowA = {top: 310, bottom: 610.7, zero: 312, colStep: 1, rowStep: 1, yTicks: depthTicks13, xTicks: widthTicksNarrow};
const panelB = {top: 307.5, bottom: 610.3, zero: 309.8, colStep: 1, rowStep: 0.5, yTicks: depthTicks13, xTicks: widthTicksMedium};
const panelC = {top: 957, bottom: 1286.7, zero: 959, colStep: 1.33, rowStep: 0.5, yTicks: depthTicks14, xTicks: widthTicksWide};
const panelD = {top: 957, bottom: 1286.7, zero: 959, colStep: 1, rowStep: 0.5, yTicks: depthTicks14, xTicks: widthTicksWide};

drawImage(Object.assign({}, narrowA, {name: 'image-a-fe', left: 166, right: 280.5, channel: channelFe, cells: aFeCells, bands: aFeBands, spots: aFeSpots, holes: aHoles, texture: 'grain', yLabels: depthLabels13, labelRight: 160.5}));
drawImage(Object.assign({}, narrowA, {name: 'image-a-mn', left: 401.6, right: 516.2, channel: channelMn, cells: aMnCells, bands: aMnBands, spots: aMnSpots, holes: [], texture: 'grain'}));
drawImage(Object.assign({}, narrowA, {name: 'image-a-p', left: 637.2, right: 751.9, channel: channelP, cells: aPCells, bands: aPBands, spots: aPSpots, holes: aPHoles, texture: 'grain'}));
drawImage(Object.assign({}, narrowA, {name: 'image-a-ca', left: 873.4, right: 988, channel: channelCa, cells: aCaCells, colStep: 5, bands: aCaBands, spots: aCaSpots, holes: [], texture: 'grain'}));

drawImage(Object.assign({}, panelB, {name: 'image-b-fe', left: 1280, right: 1418.2, channel: channelFe, cells: bFeCells, spots: bFeSpots, holes: bHolesFe, texture: 'grain', yLabels: depthLabels13, labelRight: 1274}));
drawImage(Object.assign({}, panelB, {name: 'image-b-mn', left: 1567.8, right: 1706.5, channel: channelMn, cells: bMnCells, spots: bMnSpots, holes: bHolesMn, texture: 'smooth'}));
drawImage(Object.assign({}, panelB, {name: 'image-b-p', left: 1856.6, right: 1995, channel: channelP, cells: bPCells, bands: bPBands, spots: bPSpots, holes: bHolesP, texture: 'grain'}));

drawImage(Object.assign({}, panelC, {name: 'image-c-fe', left: 166.4, right: 412.3, channel: channelFe, cells: cFeCells, spots: cFeSpots, holes: cFeHoles, texture: 'grain', yLabels: depthLabels14, labelRight: 160.5}));
drawImage(Object.assign({}, panelC, {name: 'image-c-mn', left: 454, right: 700.5, channel: channelMn, cells: cMnCells, spots: cMnSpots, holes: cMnHoles, texture: 'grain'}));
drawImage(Object.assign({}, panelC, {name: 'image-c-p', left: 741.7, right: 988, channel: channelP, cells: cPCells, bands: cPBands, spots: cPSpots, holes: cPHoles, texture: 'grain'}));

drawImage(Object.assign({}, panelD, {name: 'image-d-fe', left: 1226.4, right: 1472.3, channel: channelFe, cells: dFeCells, spots: dFeSpots, burrows: dFeBurrows, holes: dFeHoles, texture: 'grain', yLabels: depthLabels14, labelRight: 1221}));
drawImage(Object.assign({}, panelD, {name: 'image-d-mn', left: 1514, right: 1760.5, channel: channelMn, cells: dMnCells, colStep: 4, rowStep: 1, bands: dMnBands, spots: dMnSpots, holes: dMnHoles, texture: 'grain'}));
drawImage(Object.assign({}, panelD, {name: 'image-d-p', left: 1802.8, right: 2048.6, channel: channelP, cells: dPCells, bands: dPBands, spots: dPSpots, burrows: dPBurrows, holes: dPHoles, texture: 'grain'}));
</script>
</body>
</html>
